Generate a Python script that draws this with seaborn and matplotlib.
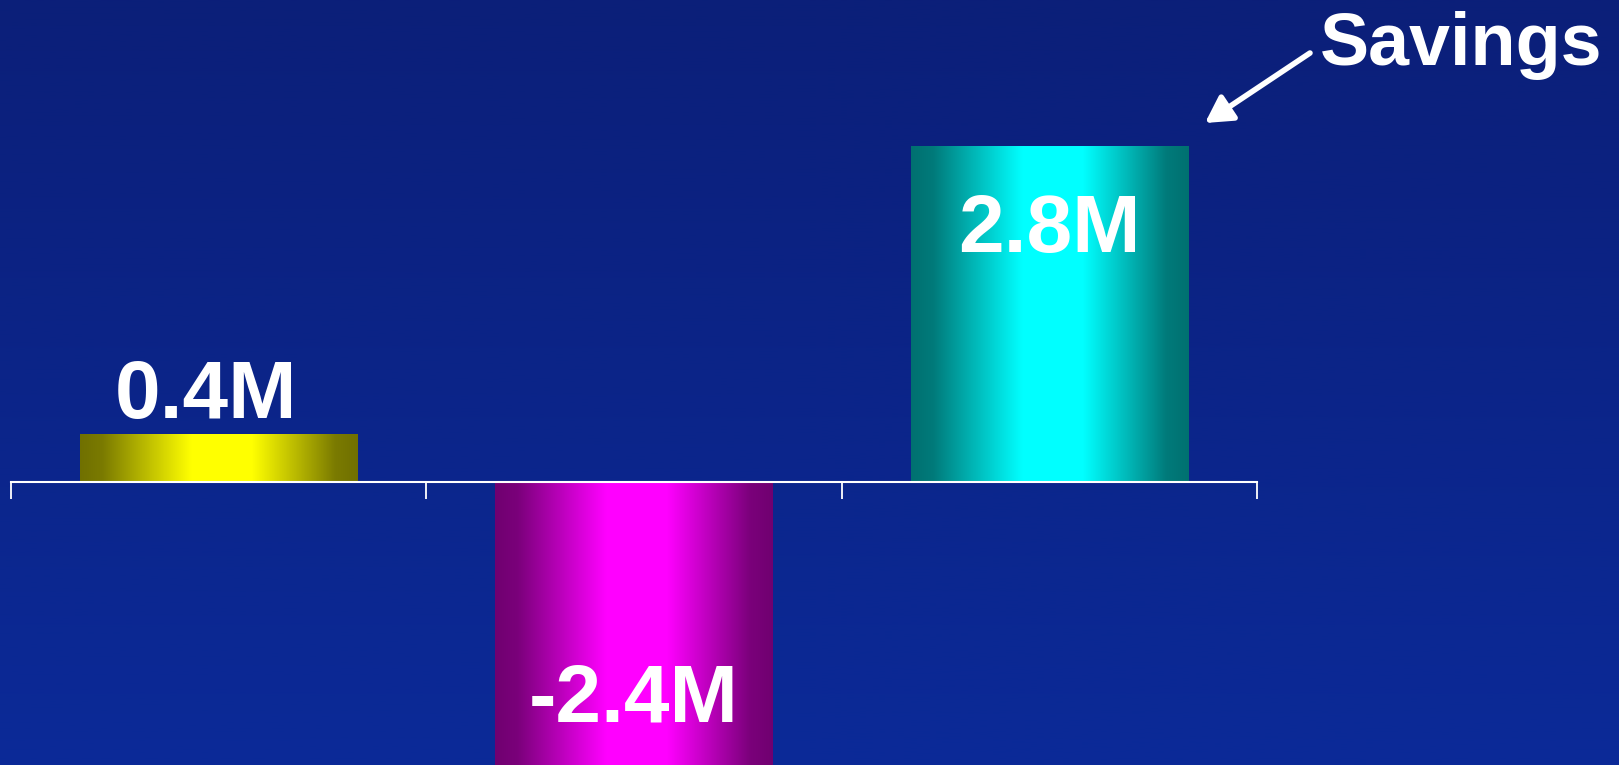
import numpy as np
import pandas as pd
import seaborn as sns
import matplotlib.pyplot as plt
from matplotlib.colors import to_rgb

# === data ===
categories = ['A', 'B', 'C']
values = [0.4, -2.4, 2.8]
bar_colors = ['#ffff00', '#ff00ff', '#00ffff']
callout = 'Savings'

df = pd.DataFrame({'cat': categories, 'val': values})

sns.set_theme(style='white')
plt.rcParams['font.family'] = ['Liberation Sans', 'DejaVu Sans']

fig = plt.figure(figsize=(16.19, 7.65), dpi=100)

# background gradient (dark navy at top, a bit brighter at bottom)
bg = fig.add_axes([0, 0, 1, 1], zorder=-10)
top, bot = np.array(to_rgb('#0b1f79')), np.array(to_rgb('#0b2a98'))
g = np.linspace(0, 1, 256)[:, None, None]
bg.imshow(top + (bot - top) * g, aspect='auto', extent=[0, 1, 0, 1])
bg.set_axis_off()

ax = fig.add_axes([11 / 1619, 0, 1246 / 1619, 1])
ax.patch.set_alpha(0)

sns.barplot(data=df, x='cat', y='val', hue='cat', palette=bar_colors,
            width=0.667, legend=False, ax=ax, saturation=1, linewidth=0)

# cylinder shading on each bar
prof_t = [0, 0.08, 0.4, 0.62, 0.92, 1]
prof_v = [0.44, 0.48, 1.0, 1.0, 0.48, 0.44]
t = np.linspace(0, 1, 300)
shade = np.interp(t, prof_t, prof_v)
for p, c in zip(ax.patches, bar_colors):
    x0, y0 = p.get_x(), p.get_y()
    w, h = p.get_width(), p.get_height()
    img = np.array(to_rgb(c))[None, None, :] * shade[None, :, None]
    im = ax.imshow(img, aspect='auto', extent=[x0, x0 + w, min(y0, y0 + h), max(y0, y0 + h)],
                   zorder=p.get_zorder() + 0.1)
    im.set_clip_path(p)
ax.set_xlim(-0.5, 2.5)
ax.set_ylim(-2.361, 4.014)

# value labels
for i, v in enumerate(values):
    dx = 0
    if v >= 0 and v < 1:
        y = v + 0.13
        dx = -0.03
    elif v >= 0:
        y = v - 0.89
    else:
        y = v + 0.4
    ax.text(i + dx, y, f'{v:.1f}M', ha='center', va='baseline', color='white',
            fontsize=59, fontweight='bold', zorder=5)

# axis line at zero with downward ticks at category boundaries
for s in ['left', 'right', 'top']:
    ax.spines[s].set_visible(False)
ax.spines['bottom'].set_position(('data', 0))
ax.spines['bottom'].set_color('white')
ax.spines['bottom'].set_linewidth(1.5)
ax.spines['bottom'].set_zorder(4)
ax.set_xticks([-0.5, 0.5, 1.5, 2.5])
ax.set_xticklabels([])
ax.set_yticks([])
ax.tick_params(axis='x', direction='out', length=12, width=1.3, color='white', bottom=True)
ax.set_xlabel('')
ax.set_ylabel('')

# callout
fig.text(1320 / 1619, 1 - 65 / 765, callout, color='white', fontsize=53,
         fontweight='bold', ha='left', va='baseline')
ax.annotate('', xy=(1205 / 1619, 1 - 123 / 765), xycoords='figure fraction',
            xytext=(1310 / 1619, 1 - 53 / 765), textcoords='figure fraction',
            arrowprops=dict(arrowstyle='-|>,head_length=0.8,head_width=0.45',
                            mutation_scale=20, color='white', lw=4,
                            shrinkA=0, shrinkB=0))

plt.savefig('out.png', dpi=100)
plt.close()
